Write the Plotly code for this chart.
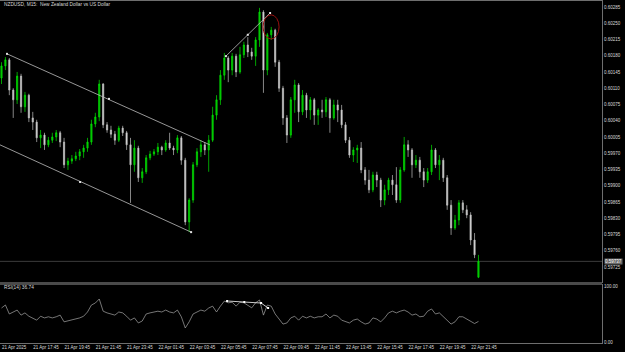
import plotly.graph_objects as go

# ---- data (NZDUSD M15, 21 Apr 15:45 -> 22 Apr 22:15) ----
bar_index = list(range(123))
open_ = [0.60132,0.60158,0.60171,0.60106,0.60085,0.60136,0.60070,0.60095,0.60046,0.60037,
         0.60003,0.60009,0.59988,0.59998,0.60005,0.60014,0.59994,0.59945,0.59953,0.59958,
         0.59964,0.59973,0.59981,0.59994,0.60033,0.60048,0.60119,0.60031,0.60020,0.60011,
         0.59998,0.60024,0.60014,0.59988,0.59945,0.59981,0.59917,0.59930,0.59960,0.59968,
         0.59973,0.59983,0.59977,0.59992,0.59981,0.59977,0.60003,0.59955,0.59822,0.59869,
         0.59945,0.59973,0.59988,0.59977,0.59998,0.60052,0.60085,0.60138,0.60175,0.60149,
         0.60179,0.60145,0.60182,0.60203,0.60188,0.60179,0.60214,0.60274,0.60149,0.60225,
         0.60235,0.60166,0.60110,0.60046,0.60009,0.60085,0.60117,0.60059,0.60095,0.60063,
         0.60085,0.60052,0.60063,0.60059,0.60085,0.60046,0.60074,0.60063,0.60031,0.59998,
         0.59966,0.59977,0.59981,0.59934,0.59912,0.59891,0.59923,0.59912,0.59869,0.59891,
         0.59912,0.59902,0.59869,0.59934,0.59988,0.59977,0.59945,0.59955,0.59930,0.59912,
         0.59930,0.59977,0.59945,0.59955,0.59917,0.59858,0.59809,0.59826,0.59863,0.59848,
         0.59837,0.59783,0.59703]
high = [0.60166,0.60177,0.60175,0.60110,0.60145,0.60141,0.60102,0.60098,0.60059,0.60042,
        0.60020,0.60014,0.60005,0.60014,0.60020,0.60018,0.60003,0.59960,0.59966,0.59973,
        0.59979,0.59988,0.60003,0.60042,0.60057,0.60128,0.60121,0.60037,0.60029,0.60018,
        0.60029,0.60029,0.60018,0.60003,0.59998,0.59986,0.59938,0.59966,0.59975,0.59979,
        0.59992,0.59986,0.59998,0.60014,0.59986,0.60009,0.60007,0.59960,0.59873,0.59951,
        0.59981,0.59998,0.59994,0.60009,0.60070,0.60095,0.60149,0.60186,0.60179,0.60186,
        0.60184,0.60199,0.60210,0.60220,0.60197,0.60220,0.60283,0.60278,0.60229,0.60242,
        0.60238,0.60171,0.60115,0.60052,0.60091,0.60128,0.60121,0.60106,0.60100,0.60091,
        0.60089,0.60067,0.60085,0.60091,0.60089,0.60085,0.60085,0.60074,0.60037,0.60005,
        0.59983,0.59988,0.59994,0.59940,0.59934,0.59930,0.59930,0.59917,0.59902,0.59917,
        0.59923,0.59940,0.59940,0.60005,0.59998,0.59981,0.59966,0.59962,0.59938,0.59938,
        0.59988,0.59981,0.59966,0.59960,0.59923,0.59869,0.59837,0.59869,0.59869,0.59858,
        0.59843,0.59798,0.59751]
low = [0.60119,0.60149,0.60095,0.60046,0.60076,0.60057,0.60059,0.60037,0.60020,0.59994,
       0.59981,0.59977,0.59983,0.59992,0.59996,0.59983,0.59938,0.59934,0.59947,0.59953,
       0.59955,0.59960,0.59973,0.59988,0.60026,0.60039,0.60024,0.60014,0.60003,0.59988,
       0.59994,0.60007,0.59977,0.59863,0.59930,0.59908,0.59906,0.59925,0.59955,0.59964,
       0.59966,0.59966,0.59973,0.59977,0.59966,0.59970,0.59945,0.59815,0.59800,0.59863,
       0.59940,0.59962,0.59966,0.59930,0.59994,0.60042,0.60074,0.60128,0.60123,0.60138,
       0.60134,0.60141,0.60175,0.60177,0.60171,0.60158,0.60199,0.60100,0.60138,0.60214,
       0.60156,0.60102,0.60031,0.59992,0.60003,0.60057,0.60037,0.60052,0.60046,0.60042,
       0.60031,0.60031,0.60046,0.60048,0.60014,0.60042,0.60037,0.60024,0.59992,0.59960,
       0.59951,0.59949,0.59927,0.59902,0.59884,0.59886,0.59897,0.59854,0.59858,0.59880,
       0.59880,0.59863,0.59863,0.59930,0.59962,0.59917,0.59938,0.59917,0.59897,0.59906,
       0.59923,0.59938,0.59912,0.59908,0.59848,0.59794,0.59805,0.59815,0.59841,0.59830,
       0.59772,0.59744,0.59701]
close = [0.60158,0.60171,0.60106,0.60085,0.60136,0.60070,0.60095,0.60046,0.60037,0.60003,
         0.60009,0.59988,0.59998,0.60005,0.60014,0.59994,0.59945,0.59953,0.59958,0.59964,
         0.59973,0.59981,0.59994,0.60033,0.60048,0.60119,0.60031,0.60020,0.60011,0.59998,
         0.60024,0.60014,0.59988,0.59945,0.59981,0.59917,0.59930,0.59960,0.59968,0.59973,
         0.59983,0.59977,0.59992,0.59981,0.59977,0.60003,0.59955,0.59822,0.59869,0.59945,
         0.59973,0.59988,0.59977,0.59998,0.60052,0.60085,0.60138,0.60175,0.60149,0.60179,
         0.60145,0.60182,0.60203,0.60188,0.60179,0.60214,0.60274,0.60149,0.60225,0.60235,
         0.60166,0.60110,0.60046,0.60009,0.60085,0.60117,0.60059,0.60095,0.60063,0.60085,
         0.60052,0.60063,0.60059,0.60085,0.60046,0.60074,0.60063,0.60031,0.59998,0.59966,
         0.59977,0.59981,0.59934,0.59912,0.59891,0.59923,0.59912,0.59869,0.59891,0.59912,
         0.59902,0.59869,0.59934,0.59988,0.59977,0.59945,0.59955,0.59930,0.59912,0.59930,
         0.59977,0.59945,0.59955,0.59917,0.59858,0.59809,0.59826,0.59863,0.59848,0.59837,
         0.59783,0.59751,0.59737]
rsi = [60.7,66.1,50.0,53.6,57.0,48.0,52.0,46.0,43.0,39.0,
       46.0,43.0,45.0,43.0,45.0,48.0,36.0,37.5,39.0,41.0,
       43.0,46.0,53.6,66.0,69.6,76.8,55.0,52.0,50.0,48.0,
       53.6,52.0,46.0,39.0,43.0,34.0,37.5,50.0,52.0,53.6,
       55.0,53.6,57.0,53.6,52.0,57.0,45.0,25.0,36.0,50.0,
       53.6,57.0,55.0,60.7,64.0,53.6,64.0,73.0,70.0,71.0,
       64.0,71.0,70.0,66.0,61.0,70.0,75.0,48.0,66.0,64.0,
       50.0,41.0,32.0,34.0,43.0,46.0,39.0,46.0,43.0,46.0,
       43.0,45.0,45.0,50.0,43.0,48.0,46.0,39.0,36.0,34.0,
       39.0,41.0,36.0,32.0,34.0,43.0,41.0,36.0,43.0,52.0,
       55.0,52.0,55.0,57.0,53.6,48.0,50.0,45.0,46.0,55.0,
       59.0,50.0,52.0,45.0,37.5,32.0,36.0,45.0,45.0,41.0,
       36.0,33.0,36.74]
time_tick_bars = [0, 8, 16, 24, 32, 40, 48, 56, 64, 72, 80, 88, 96, 104, 112, 120]
time_tick_text = ["21 Apr 2025", "21 Apr 17:45", "21 Apr 19:45", "21 Apr 21:45", "21 Apr 23:45",
                  "22 Apr 01:45", "22 Apr 03:45", "22 Apr 05:45", "22 Apr 07:45", "22 Apr 09:45",
                  "22 Apr 11:45", "22 Apr 13:45", "22 Apr 15:45", "22 Apr 17:45", "22 Apr 19:45",
                  "22 Apr 21:45"]
price_ticks = [0.60285, 0.60250, 0.60215, 0.60180, 0.60145, 0.60110, 0.60075, 0.60040, 0.60005,
               0.59970, 0.59935, 0.59900, 0.59865, 0.59830, 0.59795, 0.59760, 0.59725]
rsi_ticks = [0, 100]
rsi_tick_text = ["0.00", "100.00"]
current_price = 0.59737

# drawn objects (anchor points: bar index, price / rsi)
channel_upper = ([1.4, 53.3], [0.60184, 0.59988])
channel_lower = ([-0.4, 48.5], [0.59988, 0.59800])
channel_points = ([1.4, 27.5, 20.1, 48.5], [0.60184, 0.60087, 0.59908, 0.59800])
rising_line = ([57.4, 63.0, 68.7], [0.60179, 0.60225, 0.60272])
rsi_line = ([57.7, 62.1, 66.4, 68.2], [73.2, 71.4, 69.6, 60.7])
circle_box = (66.9, 71.0, 0.60216, 0.60268)

FONT = "Liberation Sans"
TXT = "#d8d8d8"
GRID = "#6e6e6e"
TF = dict(family=FONT, size=4.5, color=TXT)

fig = go.Figure()
fig.add_trace(go.Candlestick(
    x=bar_index, open=open_, high=high, low=low, close=close,
    increasing=dict(line=dict(color="#00e600", width=0.7), fillcolor="#00b400"),
    decreasing=dict(line=dict(color="#c0c0c0", width=0.7), fillcolor="#dcdcdc"),
    whiskerwidth=0, xaxis="x", yaxis="y", showlegend=False, hoverinfo="skip"))

fig.add_trace(go.Scatter(x=channel_upper[0], y=channel_upper[1], mode="lines",
                         line=dict(color="#bcbcbc", width=0.8), xaxis="x", yaxis="y", showlegend=False))
fig.add_trace(go.Scatter(x=channel_lower[0], y=channel_lower[1], mode="lines",
                         line=dict(color="#bcbcbc", width=0.8), xaxis="x", yaxis="y", showlegend=False))
fig.add_trace(go.Scatter(x=channel_points[0], y=channel_points[1], mode="markers",
                         marker=dict(color="#e0e0e0", size=2, symbol="square"), xaxis="x", yaxis="y", showlegend=False))
fig.add_trace(go.Scatter(x=rising_line[0], y=rising_line[1], mode="lines+markers",
                         line=dict(color="#bcbcbc", width=0.8), marker=dict(color="#e0e0e0", size=2, symbol="square"),
                         xaxis="x", yaxis="y", showlegend=False))

fig.add_trace(go.Scatter(x=bar_index, y=rsi, mode="lines", line=dict(color="#a8a8a8", width=0.7),
                         xaxis="x2", yaxis="y2", showlegend=False))
fig.add_trace(go.Scatter(x=rsi_line[0], y=rsi_line[1], mode="lines+markers",
                         line=dict(color="#ffffff", width=0.8), marker=dict(color="#ffffff", size=2, symbol="square"),
                         xaxis="x2", yaxis="y2", showlegend=False))

x_range = [-0.384, 153.6]
main_dom = [0.1784, 1.0]
rsi_dom = [0.0, 0.1696]

fig.update_layout(
    width=625, height=352,
    margin=dict(l=0, r=23, t=1, b=9, autoexpand=False),
    paper_bgcolor="#000000", plot_bgcolor="#000000",
    boxgap=0.55,
    font=dict(family=FONT, size=4.5, color=TXT),
    xaxis=dict(domain=[0, 1], range=x_range, anchor="y", showticklabels=False, showgrid=False,
               zeroline=False, showline=True, linecolor=GRID, linewidth=1, mirror=True,
               rangeslider=dict(visible=False), automargin=False),
    yaxis=dict(domain=main_dom, range=[0.596926, 0.602978], side="right", anchor="x",
               tickvals=price_ticks, ticktext=["%.5f" % v for v in price_ticks],
               showgrid=False, zeroline=False, showline=True, linecolor=GRID, mirror=True,
               ticks="", tickfont=TF, automargin=False),
    xaxis2=dict(domain=[0, 1], range=x_range, anchor="y2", matches="x",
                tickvals=time_tick_bars, ticktext=time_tick_text, ticklabelposition="outside right",
                tickangle=0, showgrid=False, zeroline=False, showline=True, linecolor=GRID, mirror=True,
                ticks="", tickfont=TF, automargin=False),
    yaxis2=dict(domain=rsi_dom, range=[-1.8, 101.8], side="right", anchor="x2",
                tickvals=rsi_ticks, ticktext=rsi_tick_text,
                showgrid=False, zeroline=False, showline=True, linecolor=GRID, mirror=True,
                ticks="", tickfont=TF, automargin=False),
)

# separator band between panels
fig.add_shape(type="rect", xref="paper", yref="paper", x0=0, x1=1, y0=rsi_dom[1], y1=main_dom[0],
              fillcolor="#4a4a4a", line=dict(width=0), layer="above")
# current price line
fig.add_shape(type="line", xref="x", yref="y", x0=x_range[0], x1=x_range[1], y0=current_price, y1=current_price,
              line=dict(color="#3c3c3c", width=1), layer="below")
# red ellipse
fig.add_shape(type="circle", xref="x", yref="y", x0=circle_box[0], x1=circle_box[1],
              y0=circle_box[2], y1=circle_box[3], line=dict(color="#9a0f0f", width=1))

fig.add_annotation(xref="paper", yref="y", x=1.003, y=current_price, text="%.5f" % current_price,
                   xanchor="left", yanchor="middle", showarrow=False, bgcolor="#6a6a6a",
                   font=dict(family=FONT, size=4.5, color="#ffffff"), borderpad=0)
fig.add_annotation(xref="paper", yref="paper", x=0.003, y=0.9912,
                   text="NZDUSD, M15:  New Zealand Dollar vs US Dollar",
                   xanchor="left", yanchor="middle", showarrow=False,
                   font=dict(family=FONT, size=4.8, color=TXT))
fig.add_annotation(xref="paper", yref="paper", x=0.003, y=0.1623, text="RSI(14) 36.74",
                   xanchor="left", yanchor="middle", showarrow=False,
                   font=dict(family=FONT, size=4.8, color=TXT))

fig.write_html("out.html")
